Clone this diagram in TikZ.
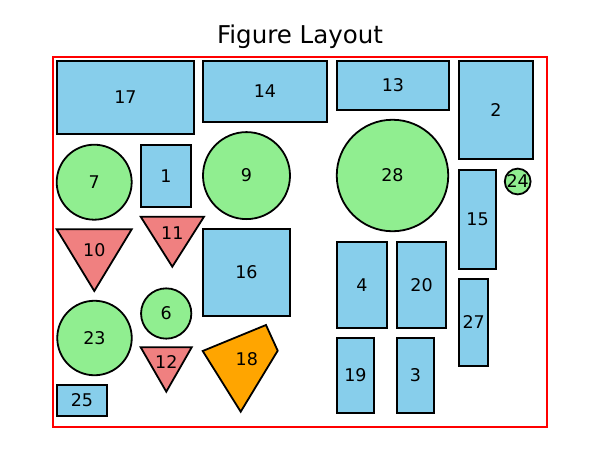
\documentclass[tikz,border=0pt]{standalone}
\usepackage{fontspec}
\setmainfont{DejaVu Sans}
\usepackage{tikz}

\definecolor{skyblue}{RGB}{135,206,235}
\definecolor{lightgreen}{RGB}{144,238,144}
\definecolor{lightcoral}{RGB}{240,128,128}
\definecolor{orangefill}{RGB}{255,165,0}

\begin{document}
\begin{tikzpicture}[x=1pt,y=-1pt,
  box/.style={draw=black, line width=1.8pt, fill=skyblue, inner sep=0pt, outer sep=0pt},
  disc/.style={circle, draw=black, line width=1.8pt, fill=lightgreen, inner sep=0pt, outer sep=0pt},
  tri/.style={draw=black, line width=1.8pt, fill=lightcoral, line join=miter},
  kite/.style={draw=black, line width=1.8pt, fill=orangefill, line join=miter},
  font=\fontsize{17.5}{20}\selectfont]

\useasboundingbox (0,0) rectangle (600,450);

\node [anchor=base, font=\fontsize{24.5}{29}\selectfont] (title) at (300,43) {Figure Layout};
\draw[red, line width=2pt] (53,57) rectangle (547,427);

% rectangles
\node [box, minimum width=137pt, minimum height=73pt] (r17) at (125.5,97.5) {17};
\node [box, minimum width=124pt, minimum height=61pt] (r14) at (265,91.5) {14};
\node [box, minimum width=112pt, minimum height=49pt] (r13) at (393,85.5) {13};
\node [box, minimum width=74pt, minimum height=98pt] (r2) at (496,110) {2};
\node [box, minimum width=50pt, minimum height=62pt] (r1) at (166,176) {1};
\node [box, minimum width=87pt, minimum height=87pt] (r16) at (246.5,272.5) {16};
\node [box, minimum width=50pt, minimum height=86pt] (r4) at (362,285) {4};
\node [box, minimum width=49pt, minimum height=86pt] (r20) at (421.5,285) {20};
\node [box, minimum width=37pt, minimum height=99pt] (r15) at (477.5,219.5) {15};
\node [box, minimum width=29pt, minimum height=87pt] (r27) at (473.7,322.3) {27};
\node [box, minimum width=37pt, minimum height=75pt] (r19) at (355.5,375.5) {19};
\node [box, minimum width=37pt, minimum height=75pt] (r3) at (415.5,375.5) {3};
\node [box, minimum width=50pt, minimum height=31pt] (r25) at (82,400.5) {25};

% circles
\node [disc, minimum size=75pt] (c7) at (94.2,182.2) {7};
\node [disc, minimum size=87pt] (c9) at (246.5,175.6) {9};
\node [disc, minimum size=111.5pt] (c28) at (392.5,175.5) {28};
\node [disc, minimum size=24.6pt] (c24) at (517.7,181.5) {24};
\node [disc, minimum size=74.5pt] (c23) at (94.5,338) {23};
\node [disc, minimum size=50.3pt] (c6) at (166.2,313.5) {6};

% triangles
\draw[tri] (56.7,229.3) -- (131.7,229.3) -- (94.3,291) -- cycle;
\node (t10) at (94.3,249.9) {10};
\draw[tri] (140.7,216.7) -- (204,216.7) -- (172.3,266.7) -- cycle;
\node (t11) at (172.3,233.4) {11};
\draw[tri] (140.7,347.3) -- (191.7,347.3) -- (166.3,391.7) -- cycle;
\node (t12) at (166.3,362.1) {12};

% quadrilateral
\draw[kite] (266,325) -- (277.7,350.7) -- (240.7,411.7) -- (202.7,351) -- cycle;
\node (q18) at (246.8,359.6) {18};

\end{tikzpicture}
\end{document}
